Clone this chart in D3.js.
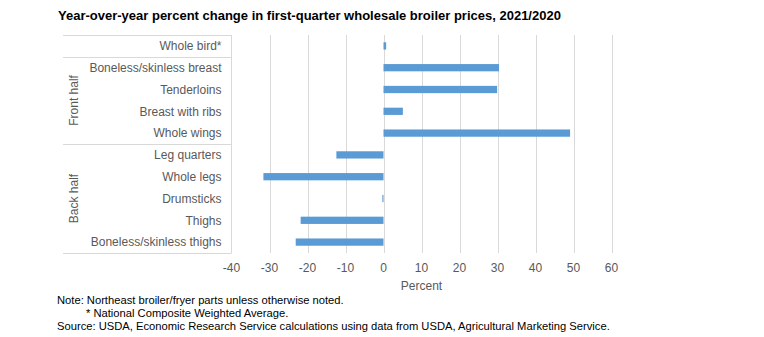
<!DOCTYPE html>
<html lang="en">
<head>
  <meta charset="UTF-8">
  <title>Broiler prices</title>
  <script src="https://d3js.org/d3.v7.min.js"></script>
  <style>
    body { margin: 0; background: #fff; }
    svg { font-family: "Liberation Sans", Arial, sans-serif; }
    .grid line { stroke: #d9d9d9; stroke-width: 1px; }
    .cat { font-size: 12px; fill: #595959; }
    .note { font-size: 11.2px; fill: #000; }
  </style>
</head>
<body>
  <svg id="viz" width="764" height="337"></svg>

  <script>
    const categories = ["Whole bird*", "Boneless/skinless breast", "Tenderloins", "Breast with ribs", "Whole wings",
                        "Leg quarters", "Whole legs", "Drumsticks", "Thighs", "Boneless/skinless thighs"];
    const values = [0.7, 30.4, 29.9, 5.1, 49.1, -12.4, -31.6, -0.3, -21.8, -23.1];
    const groups = [
      { name: "", from: 0, to: 0 },
      { name: "Front half", from: 1, to: 4 },
      { name: "Back half", from: 5, to: 9 }
    ];
    const ticks = [-40, -30, -20, -10, 0, 10, 20, 30, 40, 50, 60];

    const svg = d3.select("#viz"),
          margin = { top: 35, left: 231.5, right: 611.5, bottom: 253 },
          labelLeft = 63;

    const x = d3.scaleLinear().domain([-40, 60]).range([margin.left, margin.right]);
    const y = d3.scaleBand().domain(d3.range(categories.length)).range([margin.top, margin.bottom]);

    // Title
    svg.append("text")
      .attr("x", 58).attr("y", 20)
      .style("font-size", "13px").style("font-weight", "bold")
      .text("Year-over-year percent change in first-quarter wholesale broiler prices, 2021/2020");

    // Gridlines
    svg.append("g").attr("class", "grid")
      .selectAll("line")
      .data(ticks.slice(1))
      .join("line")
      .attr("x1", d => Math.round(x(d)) + 0.5).attr("x2", d => Math.round(x(d)) + 0.5)
      .attr("y1", margin.top).attr("y2", margin.bottom);

    // Category axis box lines
    const box = svg.append("g").attr("stroke", "#d9d9d9").attr("stroke-width", 1);
    box.append("line")
      .attr("x1", margin.left).attr("x2", margin.left)
      .attr("y1", margin.top).attr("y2", margin.bottom);
    const bounds = [margin.top, ...groups.map(g => y(g.to) + y.bandwidth())];
    box.selectAll(".sep")
      .data(bounds)
      .join("line")
      .attr("x1", labelLeft).attr("x2", margin.left)
      .attr("y1", d => Math.round(d) + 0.5).attr("y2", d => Math.round(d) + 0.5);

    // Bars
    const barH = y.bandwidth() / 3;
    svg.append("g")
      .selectAll("rect")
      .data(values)
      .join("rect")
      .attr("x", d => x(Math.min(0, d)))
      .attr("width", d => Math.abs(x(d) - x(0)))
      .attr("y", (d, i) => y(i) + (y.bandwidth() - barH) / 2)
      .attr("height", barH)
      .attr("fill", "#5b9bd5");

    // Category labels
    svg.append("g")
      .selectAll("text")
      .data(categories)
      .join("text")
      .attr("class", "cat")
      .attr("x", 221.5)
      .attr("y", (d, i) => y(i) + y.bandwidth() / 2)
      .attr("dy", "0.35em")
      .attr("text-anchor", "end")
      .text(d => d);

    // Group labels
    svg.append("g")
      .selectAll("text")
      .data(groups.filter(g => g.name))
      .join("text")
      .attr("class", "cat")
      .attr("transform", g => `translate(78,${(y(g.from) + y(g.to) + y.bandwidth()) / 2}) rotate(-90)`)
      .attr("text-anchor", "middle")
      .text(g => g.name);

    // X axis tick labels
    svg.append("g")
      .selectAll("text")
      .data(ticks)
      .join("text")
      .attr("class", "cat")
      .attr("x", d => x(d))
      .attr("y", 272)
      .attr("text-anchor", "middle")
      .text(d => d);

    svg.append("text")
      .attr("class", "cat")
      .attr("x", x(10)).attr("y", 290)
      .attr("text-anchor", "middle")
      .text("Percent");

    // Notes
    const notes = [
      { t: "Note: Northeast broiler/fryer parts unless otherwise noted.", x: 57, y: 304 },
      { t: "* National Composite Weighted Average.", x: 86, y: 317 },
      { t: "Source: USDA, Economic Research Service calculations using data from USDA, Agricultural Marketing Service.", x: 57, y: 330 }
    ];
    svg.append("g")
      .selectAll("text")
      .data(notes)
      .join("text")
      .attr("class", "note")
      .attr("x", d => d.x).attr("y", d => d.y)
      .text(d => d.t);
  </script>
</body>
</html>
